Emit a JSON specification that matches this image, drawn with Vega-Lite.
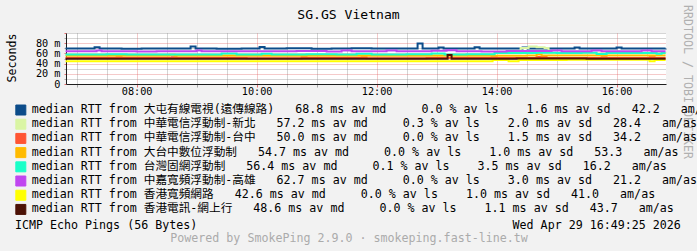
{
  "$schema": "https://vega.github.io/schema/vega-lite/v6.json",
  "width": 600,
  "height": 51,
  "autosize": {"type": "none"},
  "padding": {"left": 66, "top": 33, "right": 31, "bottom": 167},
  "background": "#f2f2f2",
  "config": {"view": {"fill": "white", "stroke": null}, "font": "DejaVu Sans Mono"},
  "data": {
    "values": [
      {"s":1,"t":"2026-04-29T06:49Z","v":69.8},{"s":1,"t":"2026-04-29T07:05Z","v":69.4},{"s":1,"t":"2026-04-29T07:18Z","v":72.2},{"s":1,"t":"2026-04-29T07:23Z","v":69.7},{"s":1,"t":"2026-04-29T07:45Z","v":69.3},{"s":1,"t":"2026-04-29T08:05Z","v":69.8},{"s":1,"t":"2026-04-29T08:30Z","v":69.4},{"s":1,"t":"2026-04-29T08:54Z","v":73.5},{"s":1,"t":"2026-04-29T08:59Z","v":69.6},{"s":1,"t":"2026-04-29T09:20Z","v":69.2},{"s":1,"t":"2026-04-29T09:45Z","v":69.8},{"s":1,"t":"2026-04-29T10:03Z","v":72.4},{"s":1,"t":"2026-04-29T10:08Z","v":69.4},{"s":1,"t":"2026-04-29T10:30Z","v":69.9},{"s":1,"t":"2026-04-29T10:55Z","v":69.3},{"s":1,"t":"2026-04-29T11:15Z","v":69.7},{"s":1,"t":"2026-04-29T11:35Z","v":69.9},{"s":1,"t":"2026-04-29T11:55Z","v":69.4},{"s":1,"t":"2026-04-29T12:15Z","v":69.7},{"s":1,"t":"2026-04-29T12:41Z","v":79.5},{"s":1,"t":"2026-04-29T12:46Z","v":69.6},{"s":1,"t":"2026-04-29T13:02Z","v":71.6},{"s":1,"t":"2026-04-29T13:07Z","v":69.6},{"s":1,"t":"2026-04-29T13:38Z","v":72.0},{"s":1,"t":"2026-04-29T13:43Z","v":69.4},{"s":1,"t":"2026-04-29T14:08Z","v":69.7},{"s":1,"t":"2026-04-29T14:26Z","v":71.6},{"s":1,"t":"2026-04-29T14:31Z","v":69.5},{"s":1,"t":"2026-04-29T14:55Z","v":69.7},{"s":1,"t":"2026-04-29T15:18Z","v":71.6},{"s":1,"t":"2026-04-29T15:23Z","v":69.6},{"s":1,"t":"2026-04-29T15:45Z","v":69.4},{"s":1,"t":"2026-04-29T16:00Z","v":71.6},{"s":1,"t":"2026-04-29T16:05Z","v":69.6},{"s":1,"t":"2026-04-29T16:30Z","v":69.4},{"s":1,"t":"2026-04-29T16:49Z","v":69.6},
      {"s":2,"t":"2026-04-29T06:49Z","v":57.2},{"s":2,"t":"2026-04-29T08:00Z","v":57.0},{"s":2,"t":"2026-04-29T09:30Z","v":57.4},{"s":2,"t":"2026-04-29T11:00Z","v":57.1},{"s":2,"t":"2026-04-29T12:30Z","v":57.3},{"s":2,"t":"2026-04-29T13:58Z","v":60.3},{"s":2,"t":"2026-04-29T14:24Z","v":70.5},{"s":2,"t":"2026-04-29T14:32Z","v":73.5},{"s":2,"t":"2026-04-29T14:40Z","v":72.0},{"s":2,"t":"2026-04-29T14:48Z","v":70.5},{"s":2,"t":"2026-04-29T14:52Z","v":60.3},{"s":2,"t":"2026-04-29T15:30Z","v":60.1},{"s":2,"t":"2026-04-29T16:10Z","v":60.4},{"s":2,"t":"2026-04-29T16:49Z","v":60.3},
      {"s":3,"t":"2026-04-29T06:49Z","v":50.8},{"s":3,"t":"2026-04-29T07:40Z","v":52.3},{"s":3,"t":"2026-04-29T07:45Z","v":50.8},{"s":3,"t":"2026-04-29T08:35Z","v":52.5},{"s":3,"t":"2026-04-29T08:40Z","v":50.8},{"s":3,"t":"2026-04-29T09:50Z","v":50.6},{"s":3,"t":"2026-04-29T10:45Z","v":52.3},{"s":3,"t":"2026-04-29T10:50Z","v":50.8},{"s":3,"t":"2026-04-29T11:45Z","v":52.5},{"s":3,"t":"2026-04-29T11:50Z","v":50.7},{"s":3,"t":"2026-04-29T12:50Z","v":50.8},{"s":3,"t":"2026-04-29T13:55Z","v":52.3},{"s":3,"t":"2026-04-29T14:00Z","v":50.8},{"s":3,"t":"2026-04-29T14:40Z","v":53.0},{"s":3,"t":"2026-04-29T14:50Z","v":50.8},{"s":3,"t":"2026-04-29T15:45Z","v":52.3},{"s":3,"t":"2026-04-29T15:50Z","v":50.8},{"s":3,"t":"2026-04-29T16:33Z","v":52.3},{"s":3,"t":"2026-04-29T16:38Z","v":50.8},{"s":3,"t":"2026-04-29T16:49Z","v":50.8},
      {"s":4,"t":"2026-04-29T06:49Z","v":55.4},{"s":4,"t":"2026-04-29T08:33Z","v":57.5},{"s":4,"t":"2026-04-29T08:38Z","v":55.4},{"s":4,"t":"2026-04-29T09:40Z","v":55.6},{"s":4,"t":"2026-04-29T11:00Z","v":55.3},{"s":4,"t":"2026-04-29T12:20Z","v":55.6},{"s":4,"t":"2026-04-29T13:30Z","v":55.4},{"s":4,"t":"2026-04-29T14:30Z","v":56.0},{"s":4,"t":"2026-04-29T14:40Z","v":57.6},{"s":4,"t":"2026-04-29T14:45Z","v":56.0},{"s":4,"t":"2026-04-29T15:30Z","v":55.8},{"s":4,"t":"2026-04-29T16:49Z","v":55.8},
      {"s":5,"t":"2026-04-29T06:49Z","v":57.8},{"s":5,"t":"2026-04-29T07:30Z","v":58.2},{"s":5,"t":"2026-04-29T07:50Z","v":57.6},{"s":5,"t":"2026-04-29T09:25Z","v":59.6},{"s":5,"t":"2026-04-29T09:40Z","v":57.8},{"s":5,"t":"2026-04-29T10:05Z","v":59.4},{"s":5,"t":"2026-04-29T10:15Z","v":57.8},{"s":5,"t":"2026-04-29T10:50Z","v":58.2},{"s":5,"t":"2026-04-29T11:20Z","v":57.6},{"s":5,"t":"2026-04-29T11:40Z","v":59.4},{"s":5,"t":"2026-04-29T11:55Z","v":57.9},{"s":5,"t":"2026-04-29T12:30Z","v":58.4},{"s":5,"t":"2026-04-29T12:55Z","v":59.6},{"s":5,"t":"2026-04-29T13:08Z","v":57.8},{"s":5,"t":"2026-04-29T13:30Z","v":58.2},{"s":5,"t":"2026-04-29T13:58Z","v":61.0},{"s":5,"t":"2026-04-29T14:40Z","v":61.4},{"s":5,"t":"2026-04-29T15:00Z","v":60.6},{"s":5,"t":"2026-04-29T15:25Z","v":61.2},{"s":5,"t":"2026-04-29T15:40Z","v":59.0},{"s":5,"t":"2026-04-29T15:50Z","v":61.0},{"s":5,"t":"2026-04-29T16:20Z","v":60.6},{"s":5,"t":"2026-04-29T16:40Z","v":59.2},{"s":5,"t":"2026-04-29T16:45Z","v":61.0},{"s":5,"t":"2026-04-29T16:49Z","v":61.0},
      {"s":6,"t":"2026-04-29T06:49Z","v":64.2},{"s":6,"t":"2026-04-29T07:20Z","v":65.8},{"s":6,"t":"2026-04-29T07:25Z","v":64.2},{"s":6,"t":"2026-04-29T08:00Z","v":63.8},{"s":6,"t":"2026-04-29T08:20Z","v":64.4},{"s":6,"t":"2026-04-29T09:00Z","v":65.8},{"s":6,"t":"2026-04-29T09:05Z","v":64.2},{"s":6,"t":"2026-04-29T09:40Z","v":64.0},{"s":6,"t":"2026-04-29T10:05Z","v":64.3},{"s":6,"t":"2026-04-29T10:40Z","v":64.6},{"s":6,"t":"2026-04-29T11:10Z","v":63.6},{"s":6,"t":"2026-04-29T11:25Z","v":65.6},{"s":6,"t":"2026-04-29T11:35Z","v":64.2},{"s":6,"t":"2026-04-29T12:10Z","v":65.8},{"s":6,"t":"2026-04-29T12:20Z","v":64.1},{"s":6,"t":"2026-04-29T12:55Z","v":65.0},{"s":6,"t":"2026-04-29T13:10Z","v":66.0},{"s":6,"t":"2026-04-29T13:20Z","v":64.2},{"s":6,"t":"2026-04-29T13:45Z","v":63.6},{"s":6,"t":"2026-04-29T14:10Z","v":64.5},{"s":6,"t":"2026-04-29T14:55Z","v":65.8},{"s":6,"t":"2026-04-29T15:05Z","v":64.0},{"s":6,"t":"2026-04-29T15:35Z","v":65.6},{"s":6,"t":"2026-04-29T15:45Z","v":64.0},{"s":6,"t":"2026-04-29T16:25Z","v":65.6},{"s":6,"t":"2026-04-29T16:35Z","v":64.2},{"s":6,"t":"2026-04-29T16:49Z","v":64.2},
      {"s":7,"t":"2026-04-29T06:49Z","v":44.6},{"s":7,"t":"2026-04-29T08:00Z","v":44.4},{"s":7,"t":"2026-04-29T09:30Z","v":44.7},{"s":7,"t":"2026-04-29T11:00Z","v":44.5},{"s":7,"t":"2026-04-29T12:30Z","v":44.7},{"s":7,"t":"2026-04-29T13:56Z","v":47.2},{"s":7,"t":"2026-04-29T14:12Z","v":44.6},{"s":7,"t":"2026-04-29T14:22Z","v":47.2},{"s":7,"t":"2026-04-29T15:00Z","v":47.0},{"s":7,"t":"2026-04-29T15:10Z","v":47.4},{"s":7,"t":"2026-04-29T16:33Z","v":44.6},{"s":7,"t":"2026-04-29T16:38Z","v":47.2},{"s":7,"t":"2026-04-29T16:49Z","v":47.2},
      {"s":8,"t":"2026-04-29T06:49Z","v":49.6},{"s":8,"t":"2026-04-29T08:10Z","v":49.4},{"s":8,"t":"2026-04-29T09:30Z","v":49.7},{"s":8,"t":"2026-04-29T10:40Z","v":49.5},{"s":8,"t":"2026-04-29T12:00Z","v":49.6},{"s":8,"t":"2026-04-29T13:11Z","v":57.0},{"s":8,"t":"2026-04-29T13:15Z","v":49.6},{"s":8,"t":"2026-04-29T14:20Z","v":49.8},{"s":8,"t":"2026-04-29T15:30Z","v":49.6},{"s":8,"t":"2026-04-29T16:49Z","v":49.6}
    ]
  },
  "layer": [
    {
      "mark": {"type": "line", "interpolate": "step-after", "strokeWidth": 2},
      "encoding": {
        "x": {
          "field": "t", "type": "temporal",
          "scale": {"type": "utc", "domain": [
            {"year": 2026, "month": 4, "date": 29, "hours": 6, "minutes": 49, "seconds": 25, "utc": true},
            {"year": 2026, "month": 4, "date": 29, "hours": 16, "minutes": 49, "seconds": 25, "utc": true}
          ]},
          "axis": {
            "orient": "bottom",
            "tickCount": 20,
            "labelExpr": "utcminutes(datum.value) == 0 && utchours(datum.value) % 2 == 0 ? utcFormat(datum.value, '%H:%M') : ''",
            "labelFont": "DejaVu Sans Mono", "labelFontSize": 10.2, "labelColor": "black",
            "labelPadding": -1, "labelOverlap": false, "labelFlush": false,
            "grid": true, "gridDash": [1, 1],
            "gridColor": {"condition": {"test": "utcminutes(datum.value) == 0 && utchours(datum.value) % 2 == 0", "value": "rgba(222,79,79,0.6)"}, "value": "rgba(143,143,143,0.75)"},
            "ticks": true, "tickSize": 3,
            "tickColor": {"condition": {"test": "utcminutes(datum.value) == 0 && utchours(datum.value) % 2 == 0", "value": "rgba(222,79,79,0.8)"}, "value": "rgba(143,143,143,0.75)"},
            "domain": true, "domainColor": "#1f1f1f", "domainWidth": 1,
            "title": "Powered by SmokePing 2.9.0 · smokeping.fast-line.tw",
            "titleX": 282.5, "titleY": 157, "titleAlign": "center", "titleBaseline": "alphabetic",
            "titleFont": "DejaVu Sans Mono", "titleFontSize": 11.65, "titleFontWeight": "normal", "titleColor": "#ababab"
          }
        },
        "y": {
          "field": "v", "type": "quantitative",
          "scale": {"domain": [0, 100], "nice": false, "zero": true},
          "axis": {
            "orient": "left",
            "values": [0, 10, 20, 30, 40, 50, 60, 70, 80, 90, 100],
            "labelExpr": "datum.value % 20 == 0 && datum.value < 100 ? (datum.value == 0 ? '0' : datum.value + ' m') : ''",
            "labelFont": "DejaVu Sans Mono", "labelFontSize": 10.2, "labelColor": "black", "labelPadding": 4,
            "labelOverlap": false, "labelFlush": false,
            "grid": true, "gridDash": [1, 1],
            "gridColor": {"condition": {"test": "datum.value % 20 == 0 && datum.value > 0 && datum.value < 100", "value": "rgba(222,79,79,0.6)"}, "value": "rgba(143,143,143,0.75)"},
            "ticks": true, "tickSize": 2,
            "tickColor": {"condition": {"test": "datum.value % 20 == 0", "value": "rgba(222,79,79,0.8)"}, "value": "rgba(143,143,143,0.75)"},
            "domain": true, "domainColor": "#1f1f1f", "domainWidth": 1,
            "title": "Seconds", "titleX": -51, "titleY": 24.5, "titleAngle": -90, "titleAlign": "center", "titleBaseline": "alphabetic",
            "titleFont": "DejaVu Sans Mono", "titleFontSize": 11.65, "titleFontWeight": "normal", "titleColor": "black"
          }
        },
        "color": {
          "field": "s", "type": "nominal",
          "scale": {"range": ["#0c4c8a", "#daf5a4", "#ff5533", "#ffbb00", "#1affc8", "#c046f0", "#ffff00", "#4c1206"]},
          "legend": {
            "orient": "none", "legendX": -51, "legendY": 71.2, "direction": "vertical", "padding": 0,
            "title": "ICMP Echo Pings (56 Bytes)\u00a0\u00a0\u00a0\u00a0\u00a0\u00a0\u00a0\u00a0\u00a0\u00a0\u00a0\u00a0\u00a0\u00a0\u00a0\u00a0\u00a0\u00a0\u00a0\u00a0\u00a0\u00a0\u00a0\u00a0\u00a0\u00a0\u00a0\u00a0\u00a0\u00a0\u00a0\u00a0\u00a0\u00a0\u00a0\u00a0\u00a0\u00a0\u00a0\u00a0\u00a0\u00a0\u00a0\u00a0\u00a0Wed Apr 29 16:49:25 2026",
            "titleOrient": "bottom", "titlePadding": 3.8, "titleAnchor": "start", "titleAlign": "left",
            "titleFont": "DejaVu Sans Mono", "titleFontSize": 11.65, "titleFontWeight": "normal", "titleColor": "black", "titleLimit": 2000,
            "labelFont": "DejaVu Sans Mono, Noto Sans CJK TC", "labelFontSize": 11.65, "labelColor": "black", "labelLimit": 2000, "labelOffset": 5,
            "labelExpr": "datum.value == 1 ? 'median RTT from 大屯有線電視(遠傳線路)\u00a0\u00a0\u00a068.8 ms av md\u00a0\u00a0\u00a0\u00a0\u00a00.0 % av ls\u00a0\u00a0\u00a0\u00a01.6 ms av sd\u00a0\u00a0\u00a042.2\u00a0\u00a0\u00a0am/as' : datum.value == 2 ? 'median RTT from 中華電信浮動制-新北\u00a0\u00a0\u00a057.2 ms av md\u00a0\u00a0\u00a0\u00a0\u00a00.3 % av ls\u00a0\u00a0\u00a0\u00a02.0 ms av sd\u00a0\u00a0\u00a028.4\u00a0\u00a0\u00a0am/as' : datum.value == 3 ? 'median RTT from 中華電信浮動制-台中\u00a0\u00a0\u00a050.0 ms av md\u00a0\u00a0\u00a0\u00a0\u00a00.0 % av ls\u00a0\u00a0\u00a0\u00a01.5 ms av sd\u00a0\u00a0\u00a034.2\u00a0\u00a0\u00a0am/as' : datum.value == 4 ? 'median RTT from 大台中數位浮動制\u00a0\u00a0\u00a054.7 ms av md\u00a0\u00a0\u00a0\u00a0\u00a00.0 % av ls\u00a0\u00a0\u00a0\u00a01.0 ms av sd\u00a0\u00a0\u00a053.3\u00a0\u00a0\u00a0am/as' : datum.value == 5 ? 'median RTT from 台灣固網浮動制\u00a0\u00a0\u00a056.4 ms av md\u00a0\u00a0\u00a0\u00a0\u00a00.1 % av ls\u00a0\u00a0\u00a0\u00a03.5 ms av sd\u00a0\u00a0\u00a016.2\u00a0\u00a0\u00a0am/as' : datum.value == 6 ? 'median RTT from 中嘉寬頻浮動制-高雄\u00a0\u00a0\u00a062.7 ms av md\u00a0\u00a0\u00a0\u00a0\u00a00.0 % av ls\u00a0\u00a0\u00a0\u00a03.0 ms av sd\u00a0\u00a0\u00a021.2\u00a0\u00a0\u00a0am/as' : datum.value == 7 ? 'median RTT from 香港寬頻網路\u00a0\u00a0\u00a042.6 ms av md\u00a0\u00a0\u00a0\u00a0\u00a00.0 % av ls\u00a0\u00a0\u00a0\u00a01.0 ms av sd\u00a0\u00a0\u00a041.0\u00a0\u00a0\u00a0am/as' : 'median RTT from 香港電訊-網上行\u00a0\u00a0\u00a048.6 ms av md\u00a0\u00a0\u00a0\u00a0\u00a00.0 % av ls\u00a0\u00a0\u00a0\u00a01.1 ms av sd\u00a0\u00a0\u00a043.7\u00a0\u00a0\u00a0am/as'",
            "symbolType": "square", "symbolSize": 100, "symbolStrokeColor": "black", "symbolStrokeWidth": 1,
            "rowPadding": -0.8,
            "encode": {"symbols": {"update": {"fill": {"scale": "color", "field": "value"}, "stroke": {"value": "black"}, "opacity": {"value": 1}, "fillOpacity": {"value": 1}}}}
          }
        }
      }
    },
    {
      "mark": {"type": "point", "opacity": 0},
      "encoding": {
        "x": {
          "field": "t", "type": "temporal",
          "axis": {
            "orient": "top", "labels": false, "ticks": false, "domain": false, "grid": false,
            "title": "SG.GS Vietnam", "titleX": 282, "titleY": -14.7, "titleAlign": "center", "titleBaseline": "alphabetic",
            "titleFont": "DejaVu Sans Mono", "titleFontSize": 13.1, "titleFontWeight": "normal", "titleColor": "black"
          }
        },
        "y": {
          "field": "v", "type": "quantitative",
          "axis": {
            "orient": "right", "labels": false, "ticks": false, "domain": false, "grid": false,
            "title": "RRDTOOL / TOBI OETIKER", "titleX": 20.5, "titleY": 48.5, "titleAngle": 90, "titleAlign": "center", "titleBaseline": "middle",
            "titleFont": "DejaVu Sans Mono", "titleFontSize": 11.65, "titleFontWeight": "normal", "titleColor": "#b0b0b0"
          }
        }
      }
    }
  ],
  "resolve": {"axis": {"x": "independent", "y": "independent"}}
}
